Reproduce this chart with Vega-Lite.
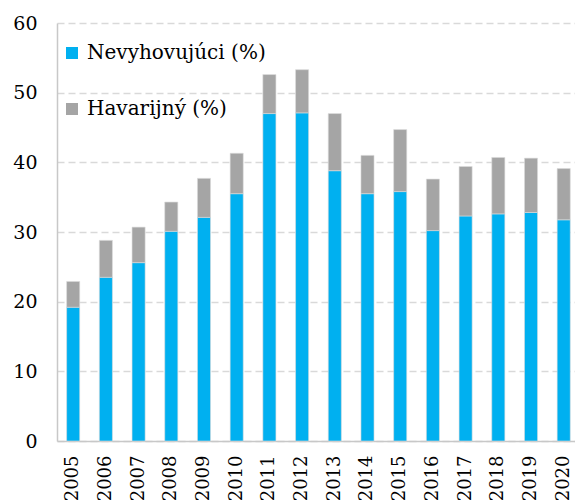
{
  "$schema": "https://vega.github.io/schema/vega-lite/v6.json",
  "width": 518,
  "height": 418,
  "autosize": {"type": "none"},
  "padding": {"left": 57, "top": 23, "right": 0, "bottom": 61},
  "background": "white",
  "config": {
    "view": {"stroke": null},
    "font": "DejaVu Serif"
  },
  "data": {
    "values": [
      {"year": "2005", "series": "Nevyhovujúci (%)", "value": 19.2},
      {"year": "2005", "series": "Havarijný (%)", "value": 3.7},
      {"year": "2006", "series": "Nevyhovujúci (%)", "value": 23.5},
      {"year": "2006", "series": "Havarijný (%)", "value": 5.3},
      {"year": "2007", "series": "Nevyhovujúci (%)", "value": 25.6},
      {"year": "2007", "series": "Havarijný (%)", "value": 5.1},
      {"year": "2008", "series": "Nevyhovujúci (%)", "value": 30.1},
      {"year": "2008", "series": "Havarijný (%)", "value": 4.2},
      {"year": "2009", "series": "Nevyhovujúci (%)", "value": 32.1},
      {"year": "2009", "series": "Havarijný (%)", "value": 5.6},
      {"year": "2010", "series": "Nevyhovujúci (%)", "value": 35.5},
      {"year": "2010", "series": "Havarijný (%)", "value": 5.8},
      {"year": "2011", "series": "Nevyhovujúci (%)", "value": 47.0},
      {"year": "2011", "series": "Havarijný (%)", "value": 5.6},
      {"year": "2012", "series": "Nevyhovujúci (%)", "value": 47.1},
      {"year": "2012", "series": "Havarijný (%)", "value": 6.2},
      {"year": "2013", "series": "Nevyhovujúci (%)", "value": 38.8},
      {"year": "2013", "series": "Havarijný (%)", "value": 8.2},
      {"year": "2014", "series": "Nevyhovujúci (%)", "value": 35.5},
      {"year": "2014", "series": "Havarijný (%)", "value": 5.5},
      {"year": "2015", "series": "Nevyhovujúci (%)", "value": 35.8},
      {"year": "2015", "series": "Havarijný (%)", "value": 8.9},
      {"year": "2016", "series": "Nevyhovujúci (%)", "value": 30.2},
      {"year": "2016", "series": "Havarijný (%)", "value": 7.4},
      {"year": "2017", "series": "Nevyhovujúci (%)", "value": 32.3},
      {"year": "2017", "series": "Havarijný (%)", "value": 7.1},
      {"year": "2018", "series": "Nevyhovujúci (%)", "value": 32.6},
      {"year": "2018", "series": "Havarijný (%)", "value": 8.1},
      {"year": "2019", "series": "Nevyhovujúci (%)", "value": 32.8},
      {"year": "2019", "series": "Havarijný (%)", "value": 7.8},
      {"year": "2020", "series": "Nevyhovujúci (%)", "value": 31.75},
      {"year": "2020", "series": "Havarijný (%)", "value": 7.35}
    ]
  },
  "transform": [
    {"calculate": "datum.series === 'Nevyhovujúci (%)' ? 0 : 1", "as": "ord"}
  ],
  "mark": {"type": "bar", "stroke": "#dcdcdc", "strokeWidth": 0.6},
  "encoding": {
    "x": {
      "field": "year",
      "type": "ordinal",
      "scale": {"paddingInner": 0.6, "paddingOuter": 0.22, "align": 0.67},
      "axis": {
        "title": null,
        "labelAngle": -90,
        "labelFont": "DejaVu Serif",
        "labelFontSize": 18,
        "labelColor": "#000000",
        "labelPadding": 14,
        "ticks": false,
        "domainColor": "#c8c8c8",
        "domainWidth": 1.5,
        "labelAlign": "right",
        "labelBaseline": "middle"
      }
    },
    "y": {
      "field": "value",
      "type": "quantitative",
      "stack": "zero",
      "scale": {"domain": [0, 60], "nice": false},
      "axis": {
        "title": null,
        "values": [0, 10, 20, 30, 40, 50, 60],
        "labelFont": "DejaVu Serif",
        "labelFontSize": 19,
        "labelColor": "#000000",
        "labelPadding": 20,
        "ticks": false,
        "domainColor": "#c8c8c8",
        "domainWidth": 1.5,
        "gridColor": "#d9d9d9",
        "gridWidth": 1.5,
        "gridDash": [7, 4]
      }
    },
    "color": {
      "field": "series",
      "type": "nominal",
      "scale": {
        "domain": ["Nevyhovujúci (%)", "Havarijný (%)"],
        "range": ["#00b0f0", "#a5a5a5"]
      },
      "legend": {
        "title": null,
        "orient": "none",
        "legendX": 5,
        "legendY": 20,
        "symbolType": "square",
        "symbolSize": 144,
        "symbolStrokeWidth": 0,
        "labelFont": "DejaVu Serif",
        "labelFontSize": 20,
        "labelColor": "#000000",
        "labelOffset": 5,
        "labelLimit": 400,
        "rowPadding": 36
      }
    },
    "order": {"field": "ord", "type": "quantitative"}
  }
}
